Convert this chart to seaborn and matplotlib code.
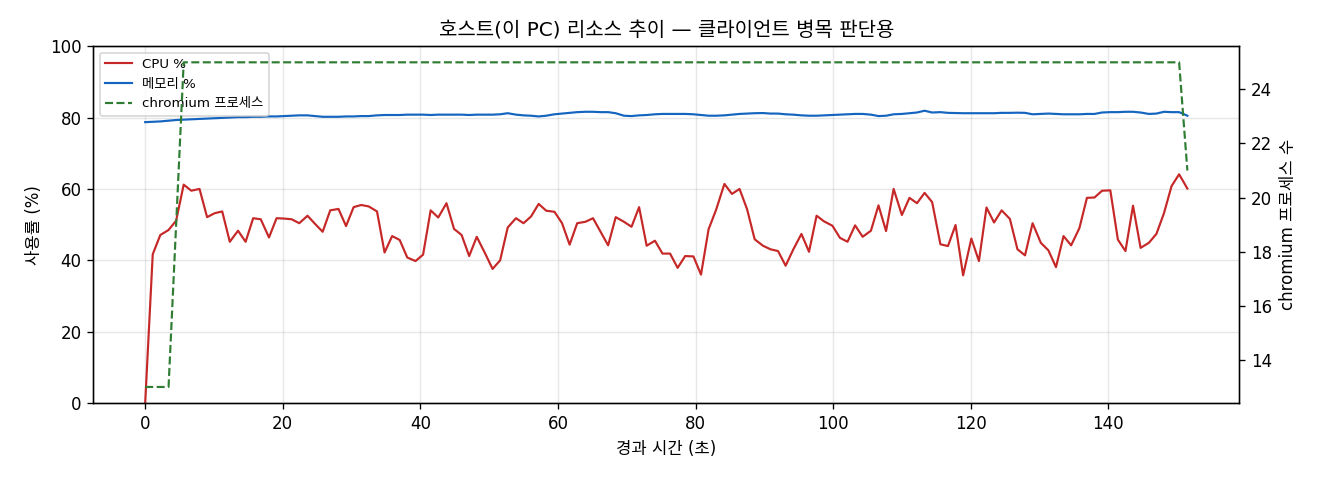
import matplotlib
matplotlib.use("Agg")
import matplotlib.pyplot as plt
import seaborn as sns
import pandas as pd

plt.rcParams['font.family'] = ['DejaVu Sans', 'Noto Sans CJK KR']
plt.rcParams['axes.unicode_minus'] = False

elapsed = [0.0, 1.1, 2.2, 3.4, 4.5, 5.6, 6.7, 7.9, 9.0, 10.1, 11.2, 12.3, 13.5, 14.6, 15.7, 16.8,
           18.0, 19.1, 20.2, 21.3, 22.4, 23.6, 24.7, 25.8, 26.9, 28.1, 29.2, 30.3, 31.4, 32.5,
           33.7, 34.8, 35.9, 37.0, 38.1, 39.3, 40.4, 41.5, 42.6, 43.8, 44.9, 46.0, 47.1, 48.2,
           49.4, 50.5, 51.6, 52.7, 53.9, 55.0, 56.1, 57.2, 58.3, 59.5, 60.6, 61.7, 62.8, 64.0,
           65.1, 66.2, 67.3, 68.4, 69.6, 70.7, 71.8, 72.9, 74.1, 75.2, 76.3, 77.4, 78.5, 79.7,
           80.8, 81.9, 83.0, 84.2, 85.3, 86.4, 87.5, 88.6, 89.8, 90.9, 92.0, 93.1, 94.2, 95.4,
           96.5, 97.6, 98.7, 99.9, 101.0, 102.1, 103.2, 104.3, 105.5, 106.6, 107.7, 108.8, 110.0,
           111.1, 112.2, 113.3, 114.4, 115.6, 116.7, 117.8, 118.9, 120.1, 121.2, 122.3, 123.4,
           124.5, 125.7, 126.8, 127.9, 129.0, 130.2, 131.3, 132.4, 133.5, 134.6, 135.8, 136.9,
           138.0, 139.1, 140.3, 141.4, 142.5, 143.6, 144.7, 145.9, 147.0, 148.1, 149.2, 150.3,
           151.5]

cpu = [0.0, 41.7, 47.1, 48.5, 51.1, 61.2, 59.5, 60.0, 52.1, 53.2, 53.7, 45.2, 48.3, 45.2, 51.8,
       51.5, 46.4, 51.8, 51.7, 51.5, 50.4, 52.5, 50.2, 48.0, 54.0, 54.4, 49.6, 54.9, 55.5, 55.1,
       53.7, 42.2, 46.8, 45.7, 40.8, 39.8, 41.6, 54.0, 52.0, 56.0, 48.8, 47.1, 41.2, 46.6, 42.0,
       37.6, 40.0, 49.2, 51.8, 50.4, 52.3, 55.8, 53.9, 53.6, 50.4, 44.4, 50.4, 50.8, 51.8, 48.0,
       44.2, 52.1, 50.8, 49.4, 54.9, 44.1, 45.5, 41.9, 41.9, 37.9, 41.2, 41.1, 36.0, 48.7, 54.2,
       61.4, 58.6, 60.0, 54.3, 45.9, 44.1, 43.1, 42.6, 38.5, 43.0, 47.4, 42.4, 52.5, 50.9, 49.7,
       46.3, 45.2, 49.8, 46.6, 48.3, 55.4, 48.2, 60.0, 52.7, 57.5, 56.0, 58.9, 56.3, 44.5, 44.0,
       49.9, 35.8, 46.1, 39.8, 54.8, 50.6, 54.0, 51.6, 43.1, 41.4, 50.4, 44.9, 42.8, 38.1, 46.8,
       44.2, 49.0, 57.5, 57.6, 59.5, 59.6, 45.8, 42.6, 55.3, 43.5, 44.9, 47.4, 53.2, 60.8, 64.1,
       60.1]

mem = [78.7, 78.8, 78.9, 79.1, 79.3, 79.4, 79.5, 79.6, 79.7, 79.8, 79.9, 80.0, 80.1, 80.1, 80.2,
       80.2, 80.3, 80.3, 80.4, 80.5, 80.6, 80.6, 80.4, 80.2, 80.2, 80.2, 80.3, 80.3, 80.4, 80.4,
       80.6, 80.7, 80.7, 80.7, 80.8, 80.8, 80.8, 80.7, 80.8, 80.8, 80.8, 80.8, 80.7, 80.8, 80.8,
       80.8, 80.9, 81.2, 80.8, 80.6, 80.5, 80.3, 80.5, 80.9, 81.1, 81.3, 81.5, 81.6, 81.6, 81.5,
       81.5, 81.2, 80.5, 80.4, 80.6, 80.7, 80.9, 81.0, 81.0, 81.0, 81.0, 80.9, 80.7, 80.5, 80.5,
       80.6, 80.8, 81.0, 81.1, 81.2, 81.25, 81.1, 81.1, 80.9, 80.8, 80.6, 80.5, 80.5, 80.6, 80.7,
       80.8, 80.9, 81.0, 81.0, 80.8, 80.4, 80.5, 80.9, 81.0, 81.2, 81.4, 81.9, 81.4, 81.5, 81.3,
       81.25, 81.2, 81.2, 81.2, 81.2, 81.2, 81.3, 81.3, 81.35, 81.3, 80.9, 81.0, 81.1, 81.0, 80.9,
       80.9, 80.9, 81.0, 81.0, 81.4, 81.5, 81.5, 81.6, 81.6, 81.4, 81.0, 81.1, 81.6, 81.5, 81.5,
       80.5]

chromium = [13, 13, 13, 13, 19] + [25] * 130 + [21]

df = pd.DataFrame({"t": elapsed, "cpu": cpu, "mem": mem, "chromium": chromium})

fig = plt.figure(figsize=(11, 4), dpi=120)
ax1 = fig.add_axes([0.0705, 0.160, 0.8685, 0.744])
ax2 = ax1.twinx()

sns.lineplot(data=df, x="t", y="cpu", ax=ax1, color="#c62828", linewidth=1.3, label="CPU %", legend=False)
sns.lineplot(data=df, x="t", y="mem", ax=ax1, color="#1565c0", linewidth=1.3, label="메모리 %", legend=False)
sns.lineplot(data=df, x="t", y="chromium", ax=ax2, color="#2e7d32", linewidth=1.3,
             linestyle="--", label="chromium 프로세스", legend=False)

ax1.set_ylim(0, 100)
ax1.set_xlabel("경과 시간 (초)", fontsize=10)
ax1.set_ylabel("사용률 (%)", fontsize=10)
ax2.set_ylabel("chromium 프로세스 수", fontsize=10)
ax1.set_title("호스트(이 PC) 리소스 추이 — 클라이언트 병목 판단용", fontsize=12)
ax1.grid(True, alpha=0.3)
ax1.tick_params(labelsize=10)
ax2.tick_params(labelsize=10)

h1, l1 = ax1.get_legend_handles_labels()
h2, l2 = ax2.get_legend_handles_labels()
ax1.legend(h1 + h2, l1 + l2, loc="upper left", fontsize=8)

fig.savefig("out.png", dpi=120)
